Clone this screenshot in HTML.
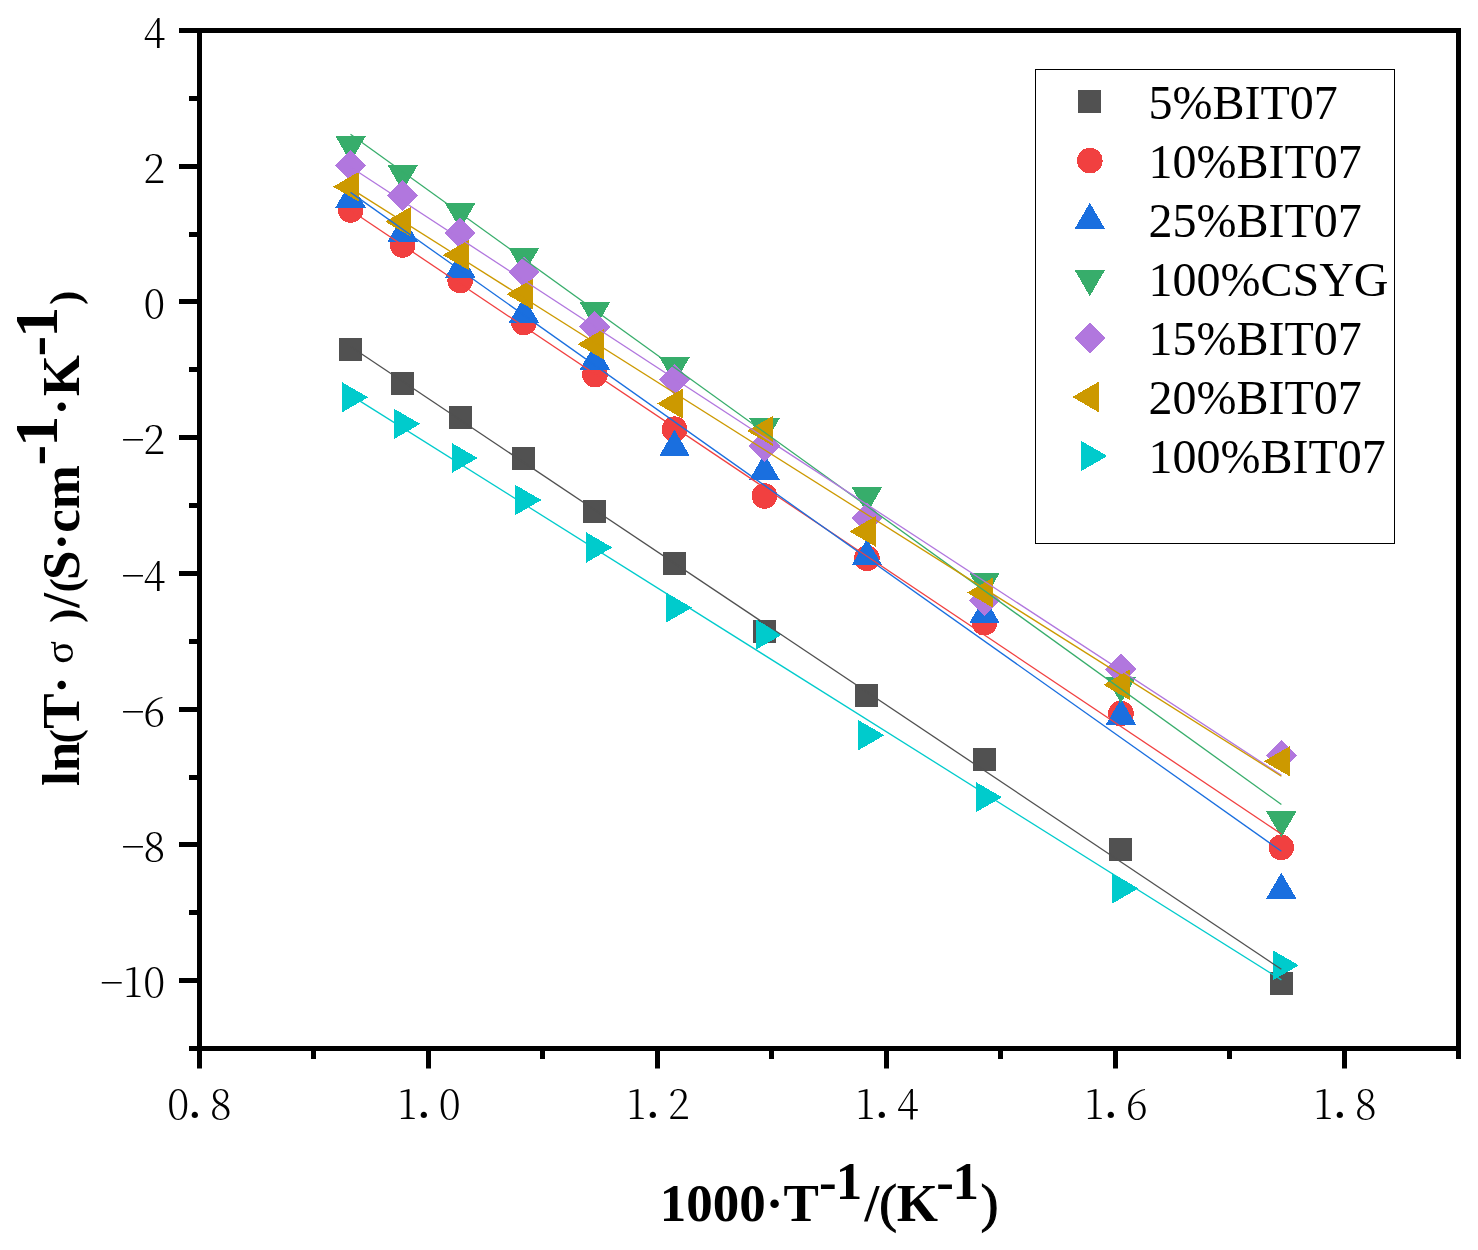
<!DOCTYPE html>
<html lang="en"><head><meta charset="utf-8"><title>Arrhenius plot</title>
<style>
html,body{margin:0;padding:0;background:#fff;}
body{width:1478px;height:1250px;overflow:hidden;}
svg{display:block;}
.tk{font-family:"Noto Serif CJK SC","Liberation Serif",serif;font-weight:300;font-size:40px;fill:#000;}
.lg{font-family:"Liberation Serif",serif;font-size:48px;fill:#000;}
.ti{font-family:"Liberation Serif",serif;font-weight:bold;font-size:53px;fill:#000;}
</style></head><body>
<svg width="1478" height="1250" viewBox="0 0 1478 1250">
<rect width="1478" height="1250" fill="#fff"/>
<g shape-rendering="crispEdges">
<g><rect x="339" y="338" width="23" height="23" fill="#515151"/><rect x="391" y="372" width="23" height="23" fill="#515151"/><rect x="449" y="406" width="23" height="23" fill="#515151"/><rect x="512" y="447" width="23" height="23" fill="#515151"/><rect x="583" y="500" width="23" height="23" fill="#515151"/><rect x="663" y="552" width="23" height="23" fill="#515151"/><rect x="753" y="620" width="23" height="23" fill="#515151"/><rect x="855" y="684" width="23" height="23" fill="#515151"/><rect x="973" y="748" width="23" height="23" fill="#515151"/><rect x="1109" y="838" width="23" height="23" fill="#515151"/><rect x="1270" y="972" width="23" height="23" fill="#515151"/></g>
<g><circle cx="350.6" cy="210.0" r="12.8" fill="#F14040"/><circle cx="402.7" cy="245.0" r="12.8" fill="#F14040"/><circle cx="460.2" cy="280.5" r="12.8" fill="#F14040"/><circle cx="523.9" cy="322.5" r="12.8" fill="#F14040"/><circle cx="594.9" cy="374.6" r="12.8" fill="#F14040"/><circle cx="674.5" cy="429.2" r="12.8" fill="#F14040"/><circle cx="764.5" cy="496.0" r="12.8" fill="#F14040"/><circle cx="866.9" cy="558.3" r="12.8" fill="#F14040"/><circle cx="984.5" cy="622.7" r="12.8" fill="#F14040"/><circle cx="1120.9" cy="713.5" r="12.8" fill="#F14040"/><circle cx="1281.3" cy="847.4" r="12.8" fill="#F14040"/></g>
<g><polygon points="350.6,181.4 335.4,207.6 365.8,207.6" fill="#1A6FDF"/><polygon points="402.7,215.5 387.5,241.7 417.9,241.7" fill="#1A6FDF"/><polygon points="460.2,251.5 445.0,277.7 475.4,277.7" fill="#1A6FDF"/><polygon points="523.9,296.7 508.7,322.9 539.1,322.9" fill="#1A6FDF"/><polygon points="594.9,343.6 579.7,369.8 610.1,369.8" fill="#1A6FDF"/><polygon points="674.5,429.7 659.3,455.9 689.7,455.9" fill="#1A6FDF"/><polygon points="764.5,453.6 749.3,479.8 779.7,479.8" fill="#1A6FDF"/><polygon points="866.9,538.9 851.7,565.1 882.1,565.1" fill="#1A6FDF"/><polygon points="984.5,596.8 969.3,623.0 999.7,623.0" fill="#1A6FDF"/><polygon points="1120.9,698.7 1105.7,724.9 1136.1,724.9" fill="#1A6FDF"/><polygon points="1281.3,872.6 1266.1,898.8 1296.5,898.8" fill="#1A6FDF"/></g>
<g><polygon points="350.6,162.3 335.4,136.1 365.8,136.1" fill="#37AD6B"/><polygon points="402.7,191.2 387.5,165.0 417.9,165.0" fill="#37AD6B"/><polygon points="460.2,229.4 445.0,203.2 475.4,203.2" fill="#37AD6B"/><polygon points="523.9,274.3 508.7,248.1 539.1,248.1" fill="#37AD6B"/><polygon points="594.9,328.4 579.7,302.2 610.1,302.2" fill="#37AD6B"/><polygon points="674.5,383.4 659.3,357.2 689.7,357.2" fill="#37AD6B"/><polygon points="764.5,444.6 749.3,418.4 779.7,418.4" fill="#37AD6B"/><polygon points="866.9,513.5 851.7,487.3 882.1,487.3" fill="#37AD6B"/><polygon points="984.5,599.2 969.3,573.0 999.7,573.0" fill="#37AD6B"/><polygon points="1120.9,703.3 1105.7,677.1 1136.1,677.1" fill="#37AD6B"/><polygon points="1281.3,837.4 1266.1,811.2 1296.5,811.2" fill="#37AD6B"/></g>
<g><polygon points="350.6,150.2 366.2,165.8 350.6,181.4 335.0,165.8" fill="#B177DE"/><polygon points="402.7,180.0 418.3,195.6 402.7,211.2 387.1,195.6" fill="#B177DE"/><polygon points="460.2,217.4 475.8,233.0 460.2,248.6 444.6,233.0" fill="#B177DE"/><polygon points="523.9,256.7 539.5,272.3 523.9,287.9 508.3,272.3" fill="#B177DE"/><polygon points="594.9,311.0 610.5,326.6 594.9,342.2 579.3,326.6" fill="#B177DE"/><polygon points="674.5,364.2 690.1,379.8 674.5,395.4 658.9,379.8" fill="#B177DE"/><polygon points="764.5,430.4 780.1,446.0 764.5,461.6 748.9,446.0" fill="#B177DE"/><polygon points="866.9,502.2 882.5,517.8 866.9,533.4 851.3,517.8" fill="#B177DE"/><polygon points="984.5,584.7 1000.1,600.3 984.5,615.9 968.9,600.3" fill="#B177DE"/><polygon points="1120.9,653.8 1136.5,669.4 1120.9,685.0 1105.3,669.4" fill="#B177DE"/><polygon points="1281.3,739.9 1296.9,755.5 1281.3,771.1 1265.7,755.5" fill="#B177DE"/></g>
<g><polygon points="333.1,186.7 359.3,171.5 359.3,201.9" fill="#CC9900"/><polygon points="385.2,221.7 411.4,206.5 411.4,236.9" fill="#CC9900"/><polygon points="442.7,255.1 468.9,239.9 468.9,270.3" fill="#CC9900"/><polygon points="506.4,294.2 532.6,279.0 532.6,309.4" fill="#CC9900"/><polygon points="577.4,344.2 603.6,329.0 603.6,359.4" fill="#CC9900"/><polygon points="657.0,403.6 683.2,388.4 683.2,418.8" fill="#CC9900"/><polygon points="747.0,430.9 773.2,415.7 773.2,446.1" fill="#CC9900"/><polygon points="849.4,531.4 875.6,516.2 875.6,546.6" fill="#CC9900"/><polygon points="967.0,592.6 993.2,577.4 993.2,607.8" fill="#CC9900"/><polygon points="1103.4,684.8 1129.6,669.6 1129.6,700.0" fill="#CC9900"/><polygon points="1263.8,761.3 1290.0,746.1 1290.0,776.5" fill="#CC9900"/></g>
<g><polygon points="368.1,397.3 341.9,382.1 341.9,412.5" fill="#00CBCC"/><polygon points="420.2,423.9 394.0,408.7 394.0,439.1" fill="#00CBCC"/><polygon points="477.7,458.0 451.5,442.8 451.5,473.2" fill="#00CBCC"/><polygon points="541.4,500.0 515.2,484.8 515.2,515.2" fill="#00CBCC"/><polygon points="612.4,547.5 586.2,532.3 586.2,562.7" fill="#00CBCC"/><polygon points="692.0,607.6 665.8,592.4 665.8,622.8" fill="#00CBCC"/><polygon points="782.0,634.6 755.8,619.4 755.8,649.8" fill="#00CBCC"/><polygon points="884.4,735.2 858.2,720.0 858.2,750.4" fill="#00CBCC"/><polygon points="1002.0,797.2 975.8,782.0 975.8,812.4" fill="#00CBCC"/><polygon points="1138.4,888.4 1112.2,873.2 1112.2,903.6" fill="#00CBCC"/><polygon points="1298.8,965.3 1272.6,950.1 1272.6,980.5" fill="#00CBCC"/></g>
</g>
<g stroke-width="1.3" fill="none">
<line x1="350.5" y1="346.5" x2="1281.4" y2="969.3" stroke="#515151"/>
<line x1="350.5" y1="210.3" x2="1281.4" y2="834" stroke="#F14040"/>
<line x1="350.5" y1="192.4" x2="1281.4" y2="851.3" stroke="#1A6FDF"/>
<line x1="350.5" y1="134.2" x2="1281.4" y2="804.5" stroke="#37AD6B"/>
<line x1="350.5" y1="167" x2="1281.4" y2="775.3" stroke="#B177DE"/>
<line x1="350.5" y1="188.4" x2="1281.4" y2="776.2" stroke="#CC9900"/>
<line x1="350.5" y1="395.1" x2="1281.4" y2="979.9" stroke="#00CBCC"/>
</g>
<rect x="199.5" y="30.5" width="1259.0" height="1018.0" fill="none" stroke="#000" stroke-width="5"/>
<g fill="#000">
<rect x="179" y="28" width="19" height="5"/>
<rect x="189" y="96" width="9" height="5"/>
<rect x="179" y="164" width="19" height="5"/>
<rect x="189" y="232" width="9" height="5"/>
<rect x="179" y="299" width="19" height="5"/>
<rect x="189" y="367" width="9" height="5"/>
<rect x="179" y="435" width="19" height="5"/>
<rect x="189" y="503" width="9" height="5"/>
<rect x="179" y="571" width="19" height="5"/>
<rect x="189" y="639" width="9" height="5"/>
<rect x="179" y="707" width="19" height="5"/>
<rect x="189" y="775" width="9" height="5"/>
<rect x="179" y="842" width="19" height="5"/>
<rect x="189" y="910" width="9" height="5"/>
<rect x="179" y="978" width="19" height="5"/>
<rect x="189" y="1046" width="9" height="5"/>
<rect x="197" y="1050" width="5" height="18.5"/>
<rect x="311" y="1050" width="5" height="9"/>
<rect x="426" y="1050" width="5" height="18.5"/>
<rect x="540" y="1050" width="5" height="9"/>
<rect x="655" y="1050" width="5" height="18.5"/>
<rect x="769" y="1050" width="5" height="9"/>
<rect x="884" y="1050" width="5" height="18.5"/>
<rect x="998" y="1050" width="5" height="9"/>
<rect x="1113" y="1050" width="5" height="18.5"/>
<rect x="1227" y="1050" width="5" height="9"/>
<rect x="1342" y="1050" width="5" height="18.5"/>
<rect x="1456" y="1050" width="5" height="9"/>
</g>
<g class="tk" text-anchor="middle">
<text x="154.3" y="47.1">4</text>
<text x="154.3" y="183.1">2</text>
<text x="154.3" y="318.1">0</text>
<text x="133.0" y="454.1" class="mn">−</text>
<text x="154.3" y="454.1">2</text>
<text x="133.0" y="590.1" class="mn">−</text>
<text x="154.3" y="590.1">4</text>
<text x="133.0" y="726.1" class="mn">−</text>
<text x="154.3" y="726.1">6</text>
<text x="133.0" y="861.1" class="mn">−</text>
<text x="154.3" y="861.1">8</text>
<text x="111.7" y="997.1" class="mn">−</text>
<text x="133.0 154.3" y="997.1">10</text>
<text y="1118.6"><tspan x="178.2">0</tspan><tspan x="194.9" dy="-1.6" style="font-size:56px">.</tspan><tspan x="220.8" dy="1.6">8</tspan></text>
<text y="1118.6"><tspan x="407.2">1</tspan><tspan x="423.9" dy="-1.6" style="font-size:56px">.</tspan><tspan x="449.8" dy="1.6">0</tspan></text>
<text y="1118.6"><tspan x="636.2">1</tspan><tspan x="652.9" dy="-1.6" style="font-size:56px">.</tspan><tspan x="678.8" dy="1.6">2</tspan></text>
<text y="1118.6"><tspan x="865.2">1</tspan><tspan x="881.9" dy="-1.6" style="font-size:56px">.</tspan><tspan x="907.8" dy="1.6">4</tspan></text>
<text y="1118.6"><tspan x="1094.2">1</tspan><tspan x="1110.9" dy="-1.6" style="font-size:56px">.</tspan><tspan x="1136.8" dy="1.6">6</tspan></text>
<text y="1118.6"><tspan x="1323.2">1</tspan><tspan x="1339.9" dy="-1.6" style="font-size:56px">.</tspan><tspan x="1365.8" dy="1.6">8</tspan></text>
</g>
<rect x="1035.5" y="69.5" width="359" height="474" fill="none" stroke="#000" stroke-width="1"/>
<g shape-rendering="crispEdges">
<rect x="1078" y="90" width="23" height="23" fill="#515151"/>
<circle cx="1089.8" cy="160.6" r="12.8" fill="#F14040"/>
<polygon points="1089.8,202.7 1074.6,228.9 1105.0,228.9" fill="#1A6FDF"/>
<polygon points="1089.8,296.2 1074.6,270.0 1105.0,270.0" fill="#37AD6B"/>
<polygon points="1089.8,322.4 1105.4,338.0 1089.8,353.6 1074.2,338.0" fill="#B177DE"/>
<polygon points="1072.3,397.0 1098.5,381.8 1098.5,412.2" fill="#CC9900"/>
<polygon points="1107.3,456.0 1081.1,440.8 1081.1,471.2" fill="#00CBCC"/>
</g>
<g class="lg">
<text x="1148.5" y="119.1">5%BIT07</text>
<text x="1148.5" y="178.1">10%BIT07</text>
<text x="1148.5" y="237.1">25%BIT07</text>
<text x="1148.5" y="296.1">100%CSYG</text>
<text x="1148.5" y="355.1">15%BIT07</text>
<text x="1148.5" y="414.1">20%BIT07</text>
<text x="1148.5" y="473.1">100%BIT07</text>
</g>
<style>.pr{font-weight:normal;stroke:#000;stroke-width:1.1px;} .yp{font-family:"Liberation Serif",serif;font-weight:bold;font-size:43px;fill:#000;}</style>
<text class="ti" y="1221"><tspan x="659.8">1000·T</tspan><tspan x="818.9" dy="-22.4">-</tspan><tspan x="835.8">1</tspan><tspan x="864.4" dy="22.4">/</tspan><tspan class="pr">(</tspan><tspan>K</tspan><tspan x="936.3" dy="-22.4">-</tspan><tspan x="952.4">1</tspan><tspan class="pr" x="980.8" dy="22.4">)</tspan></text>
<g transform="translate(78.9,786) rotate(-90)">
<text class="ti" x="0" y="0">ln<tspan x="57.3">T</tspan><tspan x="92.2">·</tspan><tspan x="122.3" dy="-6" style="font-weight:normal;font-size:42px">σ</tspan><tspan x="178.2" dy="6">/</tspan><tspan x="206">S·cm</tspan><tspan x="320.5" dy="-22" style="font-size:62px">-</tspan><tspan dx="-2" style="font-size:62px">1</tspan><tspan x="370.6" dy="22">·</tspan><tspan x="389.8">K</tspan><tspan x="429.5" dy="-22" style="font-size:62px">-</tspan><tspan dx="-2" style="font-size:62px">1</tspan></text>
<text class="yp" x="42.6" y="0">(</text><text class="yp" x="163.0" y="0">)</text><text class="yp" x="193.6" y="0">(</text><text class="yp" x="481.0" y="0">)</text>
</g>
</svg></body></html>
